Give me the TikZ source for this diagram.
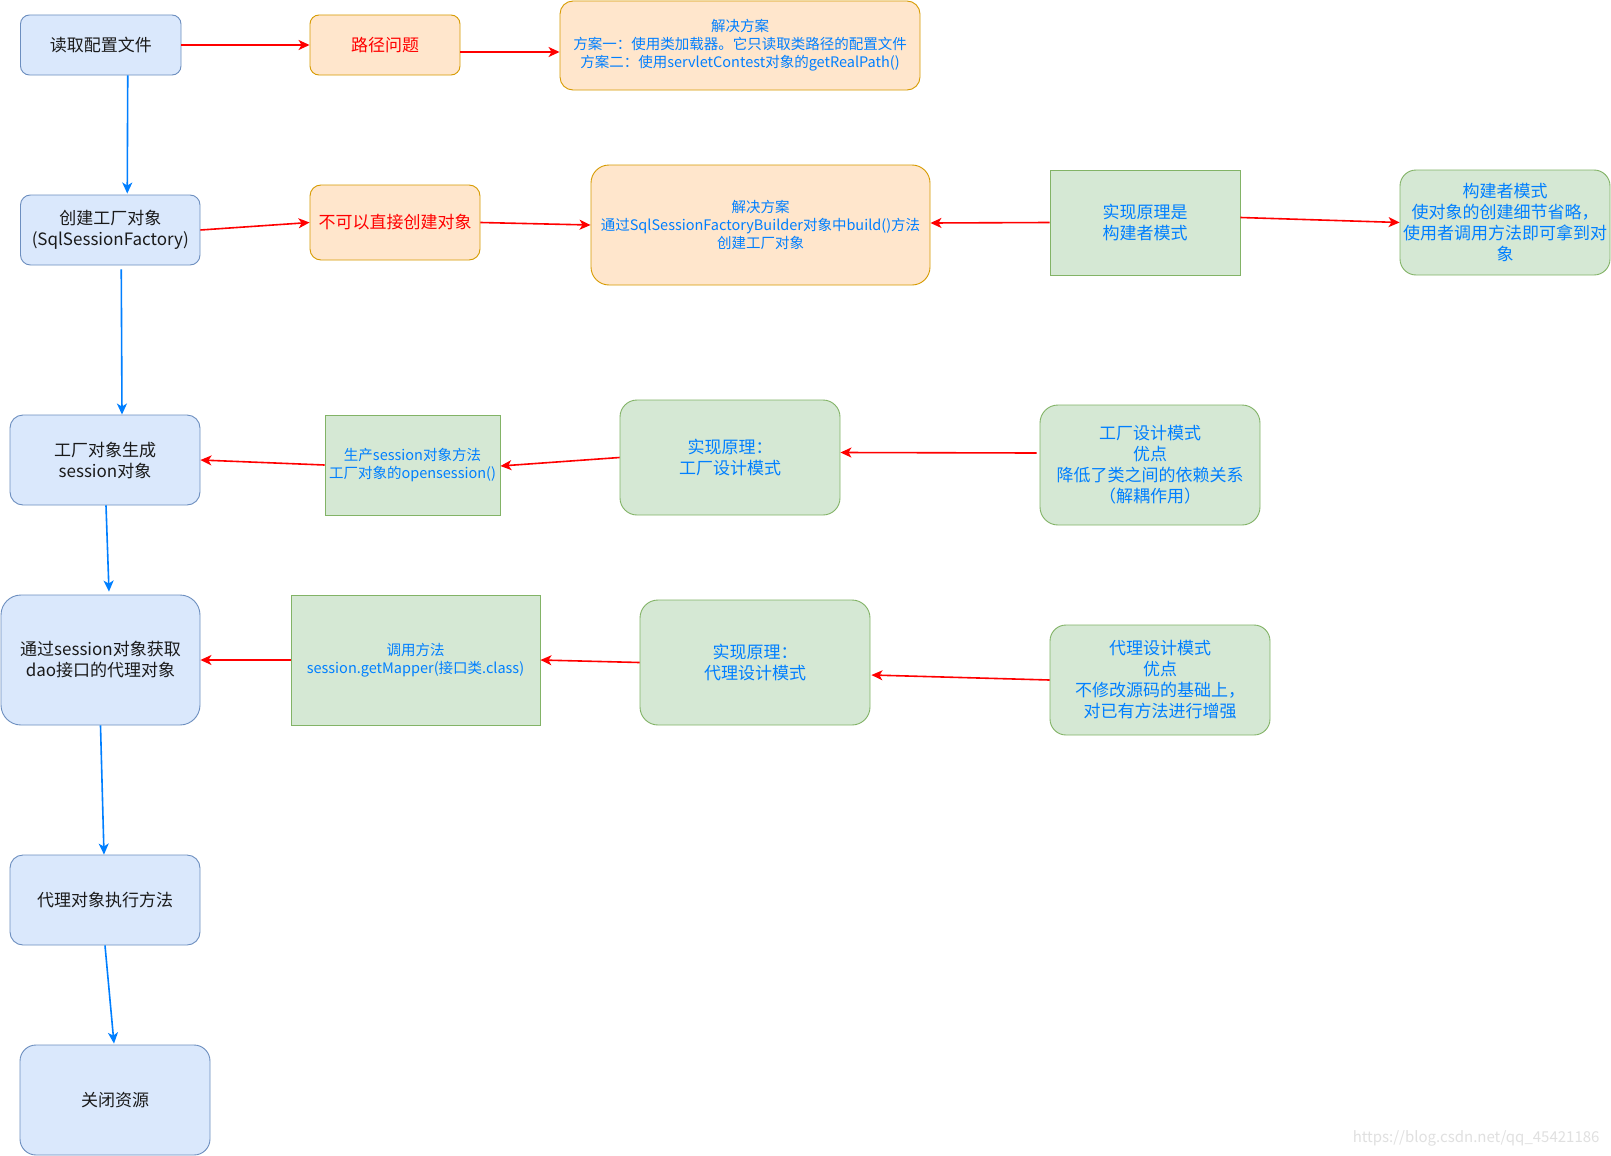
\documentclass[tikz,border=0pt]{standalone}
\usepackage{fontspec}
\setmainfont{Noto Sans CJK SC}
\usetikzlibrary{calc,arrows.meta}
\definecolor{bfill}{HTML}{DAE8FC}
\definecolor{bdraw}{HTML}{6C8EBF}
\definecolor{ofill}{HTML}{FFE6CC}
\definecolor{odraw}{HTML}{D79B00}
\definecolor{gfill}{HTML}{D5E8D4}
\definecolor{gdraw}{HTML}{82B366}
\definecolor{ablue}{HTML}{007FFF}
\definecolor{ared}{HTML}{FF0000}
\definecolor{tdark}{HTML}{1A1A1A}
\tikzset{
  base/.style={draw, line width=0.9pt, align=center, inner sep=1pt, font=\fontsize{17}{21}\selectfont},
  small/.style={font=\fontsize{14.5}{18}\selectfont},
  bluebox/.style={base, fill=bfill, draw=bdraw, rounded corners=#1, text=tdark},
  bluebox/.default=10pt,
  orangebox/.style={base, fill=ofill, draw=odraw, rounded corners=#1, text=ablue},
  orangebox/.default=10pt,
  greenbox/.style={base, fill=gfill, draw=gdraw, rounded corners=#1, text=ablue},
  greenbox/.default=16pt,
  greenrect/.style={base, fill=gfill, draw=gdraw, text=ablue},
  redtext/.style={text=ared},
  arrowhead/.style={-{Stealth[length=11pt,width=10pt,inset=3pt]}},
  barrow/.style={arrowhead, draw=ablue, fill=ablue, line width=1.6pt},
  rarrow/.style={arrowhead, draw=ared, fill=ared, line width=1.6pt}
}
\begin{document}
\begin{tikzpicture}[x=1pt,y=-1pt]
\useasboundingbox (0,0) rectangle (1611,1156);
\fill[white] (0,0) rectangle (1611,1156);

% left column
\node[bluebox=9pt, minimum width=160.5pt, minimum height=60pt] (n1) at (100.75,45) {读取配置文件};
\node[bluebox=10pt, minimum width=179.5pt, minimum height=70pt] (n2) at (110.25,230) {创建工厂对象\\(SqlSessionFactory)};
\node[bluebox=13pt, minimum width=190pt, minimum height=90pt] (n3) at (105,460) {工厂对象生成\\session对象};
\node[bluebox=20pt, minimum width=199pt, minimum height=130pt] (n4) at (100.5,660) {通过session对象获取\\dao接口的代理对象};
\node[bluebox=13pt, minimum width=190pt, minimum height=90pt] (n5) at (105,900) {代理对象执行方法};
\node[bluebox=16pt, minimum width=190pt, minimum height=110pt] (n6) at (115,1100) {关闭资源};

% row 1
\node[orangebox=9pt, redtext, minimum width=150pt, minimum height=60pt] (p1) at (385,45) {路径问题};
\node[orangebox=13pt, small, minimum width=360pt, minimum height=89pt] (s1) at (740,45.5) {解决方案\\方案一：使用类加载器。它只读取类路径的配置文件\\方案二：使用servletContest对象的getRealPath()};

% row 2
\node[orangebox=11pt, redtext, minimum width=170pt, minimum height=75pt] (p2) at (395,222.5) {不可以直接创建对象};
\node[orangebox=18pt, small, minimum width=339pt, minimum height=120pt] (s2) at (760.5,225) {解决方案\\通过SqlSessionFactoryBuilder对象中build()方法\\创建工厂对象};
\node[greenrect, minimum width=190pt, minimum height=105pt] (g1) at (1145,222.5) {实现原理是\\构建者模式};
\node[greenbox=16pt, minimum width=210pt, minimum height=105pt, text width=206pt] (g2) at (1505,222.5) {构建者模式\\使对象的创建细节省略，\\使用者调用方法即可拿到对\\象};

% row 3
\node[greenrect, small, minimum width=175pt, minimum height=100pt] (r1) at (412.5,465) {生产session对象方法\\工厂对象的opensession()};
\node[greenbox=17pt, minimum width=220pt, minimum height=115pt] (g3) at (730,457.5) {实现原理：\\工厂设计模式};
\node[greenbox=18pt, minimum width=220pt, minimum height=120pt] (g4) at (1150,465) {工厂设计模式\\优点\\降低了类之间的依赖关系\\（解耦作用）};

% row 4
\node[greenrect, small, minimum width=249pt, minimum height=130pt] (r2) at (415.5,660) {调用方法\\session.getMapper(接口类.class)};
\node[greenbox=18pt, minimum width=230pt, minimum height=125pt] (g5) at (755,662.5) {实现原理：\\代理设计模式};
\node[greenbox=16pt, minimum width=220pt, minimum height=110pt] (g6) at (1160,680) {代理设计模式\\优点\\不修改源码的基础上，\\对已有方法进行增强};

% watermark
\node[text=black!12, font=\fontsize{15}{18}\selectfont, anchor=east] (wm) at (1603,1138) {https://blog.csdn.net/qq\_45421186};

% blue flow
\draw[barrow] ($(n1.south)+(27,0)$) -- ($(n2.north)+(17,-1)$);
\draw[barrow] ($(n2.south)+(11,4)$) -- ($(n3.north)+(17,0)$);
\draw[barrow] ($(n3.south)+(1,0)$) -- ($(n4.north)+(8.5,-3)$);
\draw[barrow] (n4.south) -- ($(n5.north)+(-1,0)$);
\draw[barrow] (n5.south) -- ($(n6.north)+(-1,-1)$);

% red connectors
\draw[rarrow] (n1.east) -- (p1.west);
\draw[rarrow] ($(p1.east)+(0,7)$) -- ($(s1.west)+(0,6.5)$);
\draw[rarrow] (n2.east) -- (p2.west);
\draw[rarrow] (p2.east) -- (s2.west);
\draw[rarrow] (g1.west) -- ($(s2.east)+(0,-2)$);
\draw[rarrow] ($(g1.east)+(0,-5)$) -- (g2.west);
\draw[rarrow] (r1.west) -- (n3.east);
\draw[rarrow] (g3.west) -- ($(r1.east)+(0,1)$);
\draw[rarrow] ($(g4.west)+(-3,-12)$) -- ($(g3.east)+(0,-5)$);
\draw[rarrow] (r2.west) -- (n4.east);
\draw[rarrow] (g5.west) -- (r2.east);
\draw[rarrow] (g6.west) -- ($(g5.east)+(1,12.5)$);
\end{tikzpicture}
\end{document}
